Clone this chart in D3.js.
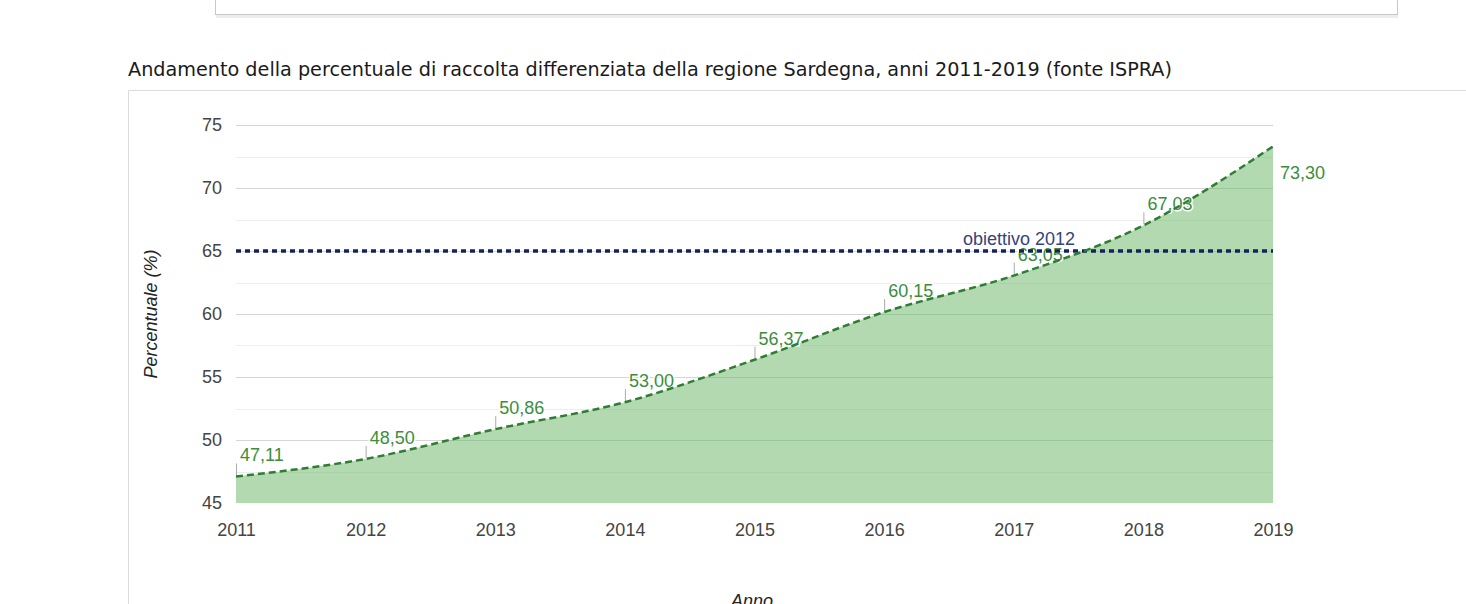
<!DOCTYPE html>
<html lang="it">
  <head>
    <meta charset="utf-8">
    <title>Raccolta differenziata Sardegna</title>
    <script src="https://cdn.jsdelivr.net/npm/d3@7"></script>
    <style>
      body { margin: 0; background: #fff; }
      svg { display: block; font-family: "Liberation Sans", Arial, sans-serif; }
      .axis .tick text { font-size: 18px; fill: #444; }
    </style>
  </head>
  <body>
    <script>

    //Data
    var anni = [2011, 2012, 2013, 2014, 2015, 2016, 2017, 2018, 2019];
    var percentuali = [47.11, 48.50, 50.86, 53.00, 56.37, 60.15, 63.05, 67.03, 73.30];
    var yTicks = [45, 50, 55, 60, 65, 70, 75];
    var obiettivo = 65;
    var obiettivoLabel = "obiettivo 2012";
    var titolo = "Andamento della percentuale di raccolta differenziata della regione Sardegna, anni 2011-2019 (fonte ISPRA)";

    var w = 1466, h = 604;
    var plotLeft = 236, plotRight = 1273, plotTop = 125, plotBottom = 503;

    var svg = d3.select("body").append("svg")
      .attr("width", w)
      .attr("height", h);

    //Box above the title
    svg.append("rect")
      .attr("x", 216).attr("y", 15).attr("width", 1182).attr("height", 3)
      .attr("fill", "#ededed");
    svg.append("rect")
      .attr("x", 215.5).attr("y", -5).attr("width", 1182).attr("height", 19.5)
      .attr("fill", "#fff").attr("stroke", "#c8c8c8");

    //Title
    svg.append("text")
      .attr("x", 128).attr("y", 76)
      .attr("textLength", 1044)
      .attr("lengthAdjust", "spacingAndGlyphs")
      .style("font-family", "'DejaVu Sans', Tahoma, sans-serif")
      .style("font-size", "20px")
      .attr("fill", "#1a1a1a")
      .text(titolo);

    //Chart frame
    svg.append("path")
      .attr("d", "M128.5," + h + "V90.5H" + w)
      .attr("fill", "none")
      .attr("stroke", "#dcdcdc");

    //Scales
    var x = d3.scaleLinear().domain([2011, 2019]).range([plotLeft, plotRight]);
    var y = d3.scaleLinear().domain([45, 75]).range([plotBottom, plotTop]);

    function gridY(d) { return Math.round(y(d)) + 0.5; }

    //Minor gridlines
    svg.append("g").selectAll("line")
      .data(d3.range(47.5, 75, 5))
      .enter().append("line")
      .attr("x1", plotLeft).attr("x2", plotRight)
      .attr("y1", gridY).attr("y2", gridY)
      .attr("stroke", "#ededed");

    //Major gridlines
    svg.append("g").selectAll("line")
      .data(yTicks.slice(1))
      .enter().append("line")
      .attr("x1", plotLeft).attr("x2", plotRight)
      .attr("y1", gridY).attr("y2", gridY)
      .attr("stroke", "#d6d6d6");

    //Area and line
    var area = d3.area()
      .x(function(d, i) { return x(anni[i]); })
      .y0(plotBottom)
      .y1(function(d) { return y(d); })
      .curve(d3.curveMonotoneX);

    var line = d3.line()
      .x(function(d, i) { return x(anni[i]); })
      .y(function(d) { return y(d); })
      .curve(d3.curveMonotoneX);

    svg.append("path")
      .datum(percentuali)
      .attr("d", area)
      .attr("fill", "#b3d9b1");

    //Gridlines seen through the area
    var clip = svg.append("clipPath").attr("id", "areaclip");
    clip.append("path").datum(percentuali).attr("d", area);

    svg.append("g").attr("clip-path", "url(#areaclip)").selectAll("line")
      .data(yTicks.slice(1))
      .enter().append("line")
      .attr("x1", plotLeft).attr("x2", plotRight)
      .attr("y1", gridY).attr("y2", gridY)
      .attr("stroke", "#9cc899");

    svg.append("g").attr("clip-path", "url(#areaclip)").selectAll("line")
      .data(d3.range(47.5, 75, 5))
      .enter().append("line")
      .attr("x1", plotLeft).attr("x2", plotRight)
      .attr("y1", gridY).attr("y2", gridY)
      .attr("stroke", "#a9d2a6");

    //Annotation stems and labels
    var fmt = function(v) { return v.toFixed(2).replace(".", ","); };
    var last = percentuali.length - 1;

    svg.append("g").selectAll("line")
      .data(percentuali.slice(0, last))
      .enter().append("line")
      .attr("x1", function(d, i) { return x(anni[i]) + 0.5; })
      .attr("x2", function(d, i) { return x(anni[i]) + 0.5; })
      .attr("y1", function(d) { return y(d) - 1; })
      .attr("y2", function(d) { return y(d) - 13; })
      .attr("stroke", "#aaa");

    svg.append("g").selectAll("text")
      .data(percentuali)
      .enter().append("text")
      .attr("x", function(d, i) { return x(anni[i]) + (i === last ? 7 : 4); })
      .attr("y", function(d, i) { return y(d) + (i === last ? 33 : -15); })
      .style("font-size", "18px")
      .attr("fill", "#3b8e3b")
      .attr("stroke", "#fff")
      .attr("stroke-width", 3)
      .attr("paint-order", "stroke")
      .text(fmt);

    //Target line, drawn over the labels
    svg.append("line")
      .attr("x1", plotLeft).attr("x2", plotRight)
      .attr("y1", y(obiettivo)).attr("y2", y(obiettivo))
      .attr("stroke", "#14245a")
      .attr("stroke-width", 3.5)
      .attr("stroke-dasharray", "5,4");

    svg.append("path")
      .datum(percentuali)
      .attr("d", line)
      .attr("fill", "none")
      .attr("stroke", "#2f7d32")
      .attr("stroke-width", 2.5)
      .attr("stroke-dasharray", "7,4");

    svg.append("text")
      .attr("x", 1075).attr("y", y(obiettivo) - 6)
      .attr("text-anchor", "end")
      .style("font-size", "18px")
      .attr("fill", "#34447a")
      .text(obiettivoLabel);

    //Axes
    var yAxis = d3.axisLeft(y).tickValues(yTicks).tickSize(0).tickPadding(14);
    svg.append("g")
      .attr("class", "y axis")
      .attr("transform", "translate(" + plotLeft + ",0)")
      .call(yAxis)
      .call(function(g) { g.select(".domain").remove(); });

    var xAxis = d3.axisBottom(x).tickValues(anni).tickFormat(d3.format("d")).tickSize(0).tickPadding(20);
    svg.append("g")
      .attr("class", "x axis")
      .attr("transform", "translate(0," + plotBottom + ")")
      .call(xAxis)
      .call(function(g) { g.select(".domain").remove(); });

    //Axis titles
    svg.append("text")
      .attr("transform", "translate(157," + ((plotTop + plotBottom) / 2) + ") rotate(-90)")
      .attr("text-anchor", "middle")
      .style("font-size", "18px")
      .style("font-style", "italic")
      .attr("fill", "#222")
      .text("Percentuale (%)");

    svg.append("text")
      .attr("x", 752)
      .attr("y", 607)
      .attr("text-anchor", "middle")
      .style("font-size", "18px")
      .style("font-style", "italic")
      .attr("fill", "#222")
      .text("Anno");

    </script>
  </body>
</html>
